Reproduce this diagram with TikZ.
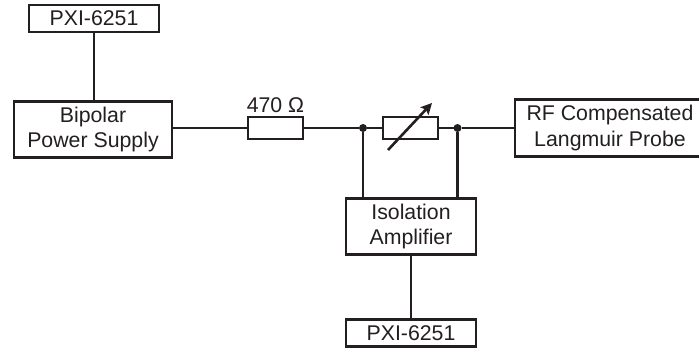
\documentclass[tikz,border=0pt]{standalone}
\usepackage{fontspec}
\setmainfont{Liberation Sans}
\usepackage{xcolor}
\usetikzlibrary{arrows.meta,positioning,calc}
\definecolor{ink}{HTML}{231F20}

\begin{document}
\begin{tikzpicture}[
  x=1pt, y=-1pt,
  box/.style={draw=ink, line width=2.6pt, outer sep=0pt, align=center, inner sep=0pt,
              text=ink, font=\fontsize{21.3}{25.5}\selectfont},
  res/.style={draw=ink, line width=2.6pt, outer sep=0pt, fill=white, minimum width=55pt, minimum height=22pt},
  dot/.style={circle, fill=ink, inner sep=0pt, outer sep=0pt, minimum size=8pt},
  wire/.style={draw=ink, line width=2.6pt}
]
\useasboundingbox (0,0) rectangle (699,349);
\begin{scope}
\clip (0,0) rectangle (699,349);
\node[box, minimum width=130pt, minimum height=27pt] (daqa) at (94,18.5) {PXI-6251};
\node[box, minimum width=158pt, minimum height=56pt] (supply) at (93,129.5) {Bipolar\\Power Supply};
\node[box, minimum width=190pt, minimum height=57pt] (probe) at (610,128) {RF Compensated\\Langmuir Probe};
\node[box, minimum width=130pt, minimum height=56pt] (amp) at (411,226.5) {Isolation\\Amplifier};
\node[box, minimum width=130pt, minimum height=27pt, below=65pt of amp] (daqb) {PXI-6251};
\node[res] (fixed) at (275.5,128) {};
\node[res] (var) at (410.5,128) {};
\node[dot] (ja) at (363,128) {};
\node[dot] (jb) at (457.5,128) {};
\node[text=ink, font=\fontsize{21.3}{25.5}\selectfont, inner sep=0pt, above=4pt of fixed] (val) {470 Ω};
\coordinate (tail) at (388,150);
\coordinate (head) at (432,103);

\draw[wire] (daqa.south) -- (daqa.south |- supply.north);
\draw[wire] (supply.east |- fixed.west) -- (fixed.west);
\draw[wire] (fixed.east) -- (ja) -- (var.west);
\draw[wire] (var.east) -- (jb) -- (probe.west);
\draw[wire] (ja) -- (ja |- amp.north);
\draw[wire] (jb) -- (jb |- amp.north);
\draw[wire] (amp.south) -- (daqb.north);
\draw[draw=ink, line width=2.6pt, -{Stealth[length=11pt,width=11pt,inset=2pt]}] (tail) -- (head);
\end{scope}
\end{tikzpicture}
\end{document}
